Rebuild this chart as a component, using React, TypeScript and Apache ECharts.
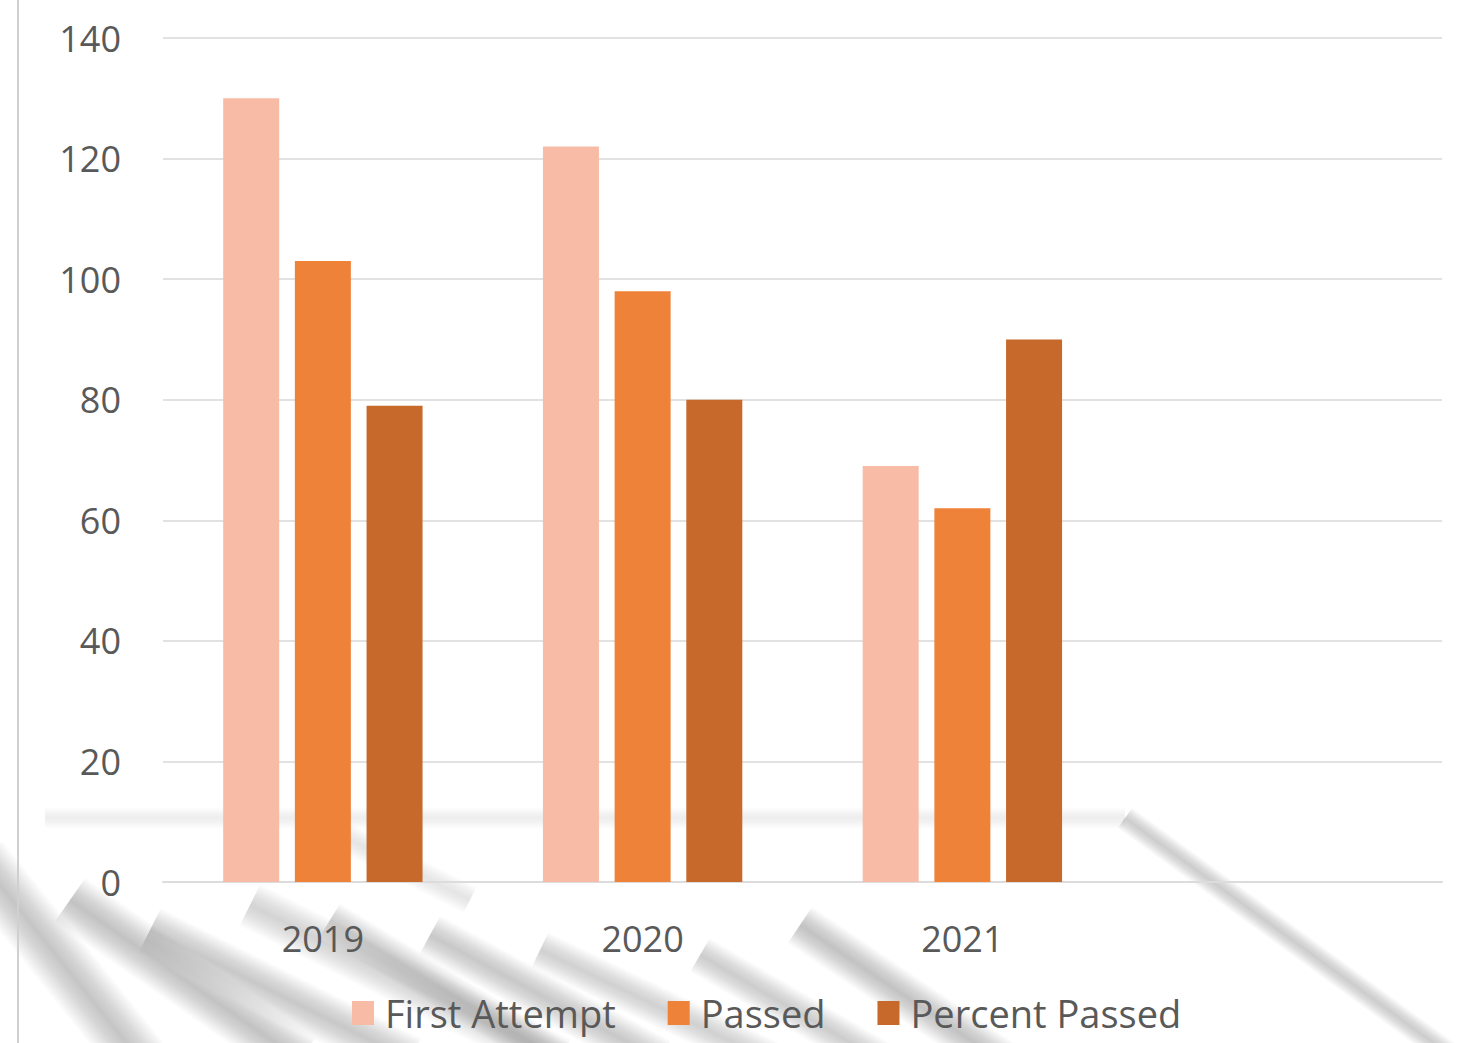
import React, { useEffect, useRef } from "react";
import * as echarts from "echarts";

const categories = ["2019", "2020", "2021", ""];
const seriesNames = ["First Attempt", "Passed", "Percent Passed"];
const firstAttempt = [130, 122, 69, null];
const passed = [103, 98, 62, null];
const percentPassed = [79, 80, 90, null];
const yTicks = { min: 0, max: 140, interval: 20 };

const colors = ["#F7BBA6", "#EE8238", "#C7692B"];
const textColor = "#595959";
const font = "'Open Sans', 'Noto Sans', sans-serif";

function softStripe(x1: number, y1: number, x2: number, y2: number, w: number, op: number) {
  const dx = x2 - x1;
  const dy = y2 - y1;
  const len = Math.hypot(dx, dy);
  const nx = (-dy / len) * (w / 2);
  const ny = (dx / len) * (w / 2);
  const cx = (x1 + x2) / 2;
  const cy = (y1 + y2) / 2;
  const c = (a: number) => `rgba(110,110,110,${a})`;
  return {
    type: "polygon",
    z: -10,
    silent: true,
    shape: {
      points: [
        [x1 + nx, y1 + ny],
        [x2 + nx, y2 + ny],
        [x2 - nx, y2 - ny],
        [x1 - nx, y1 - ny],
      ],
    },
    style: {
      fill: new echarts.graphic.LinearGradient(
        cx + nx, cy + ny, cx - nx, cy - ny,
        [
          { offset: 0, color: c(0) },
          { offset: 0.3, color: c(op * 0.7) },
          { offset: 0.5, color: c(op) },
          { offset: 0.7, color: c(op * 0.7) },
          { offset: 1, color: c(0) },
        ],
        true
      ),
    },
  };
}

export default function App() {
  const ref = useRef<HTMLDivElement>(null);
  useEffect(() => {
    if (!ref.current) return;
    const chart = echarts.init(ref.current, null, { renderer: "svg" });
    const stripes = [
      softStripe(45, 818, 1125, 818, 22, 0.12),
      softStripe(1125, 818, 1450, 1055, 26, 0.35),
      softStripe(-20, 860, 140, 1060, 60, 0.4),
      softStripe(70, 900, 300, 1060, 55, 0.42),
      softStripe(150, 930, 410, 1060, 50, 0.38),
      softStripe(250, 905, 560, 1060, 48, 0.3),
      softStripe(330, 920, 560, 1060, 40, 0.35),
      softStripe(430, 935, 660, 1060, 45, 0.38),
      softStripe(540, 950, 770, 1060, 40, 0.32),
      softStripe(700, 955, 880, 1060, 40, 0.35),
      softStripe(800, 925, 1000, 1060, 45, 0.42),
      softStripe(300, 815, 470, 900, 30, 0.18),
    ];
    chart.setOption({
      animation: false,
      backgroundColor: "#ffffff",
      textStyle: { fontFamily: font },
      graphic: [
        {
          type: "line",
          z: -5,
          silent: true,
          shape: { x1: 18, y1: 0, x2: 18, y2: 1043 },
          style: { stroke: "#d0d0d0", lineWidth: 2 },
        },
        ...stripes,
      ],
      grid: { left: 163, right: 24, top: 38, bottom: 161, containLabel: false },
      legend: {
        bottom: 6,
        left: 347,
        itemWidth: 22,
        itemHeight: 24,
        itemGap: 52,
        icon: "rect",
        textStyle: { color: textColor, fontSize: 38, fontFamily: font, padding: [0, 0, 0, 6] },
        data: seriesNames,
      },
      xAxis: {
        type: "category",
        data: categories,
        axisLine: { show: true, lineStyle: { color: "#dcdcdc", width: 2 } },
        axisTick: { show: false },
        axisLabel: { color: textColor, fontSize: 36, margin: 38, fontFamily: font },
      },
      yAxis: {
        type: "value",
        min: yTicks.min,
        max: yTicks.max,
        interval: yTicks.interval,
        axisLine: { show: false },
        axisTick: { show: false },
        splitLine: { lineStyle: { color: "#e2e2e2", width: 2 } },
        axisLabel: { color: textColor, fontSize: 36, margin: 42, fontFamily: font },
      },
      series: [
        { name: seriesNames[0], type: "bar", z: 5, data: firstAttempt, barWidth: 56, barGap: "28%", itemStyle: { color: colors[0] } },
        { name: seriesNames[1], type: "bar", z: 5, data: passed, barWidth: 56, barGap: "28%", itemStyle: { color: colors[1] } },
        { name: seriesNames[2], type: "bar", z: 5, data: percentPassed, barWidth: 56, barGap: "28%", itemStyle: { color: colors[2] } },
      ],
    });
    return () => chart.dispose();
  }, []);
  return <div ref={ref} style={{ width: 1466, height: 1043, position: "absolute", left: 0, top: 0 }} />;
}
